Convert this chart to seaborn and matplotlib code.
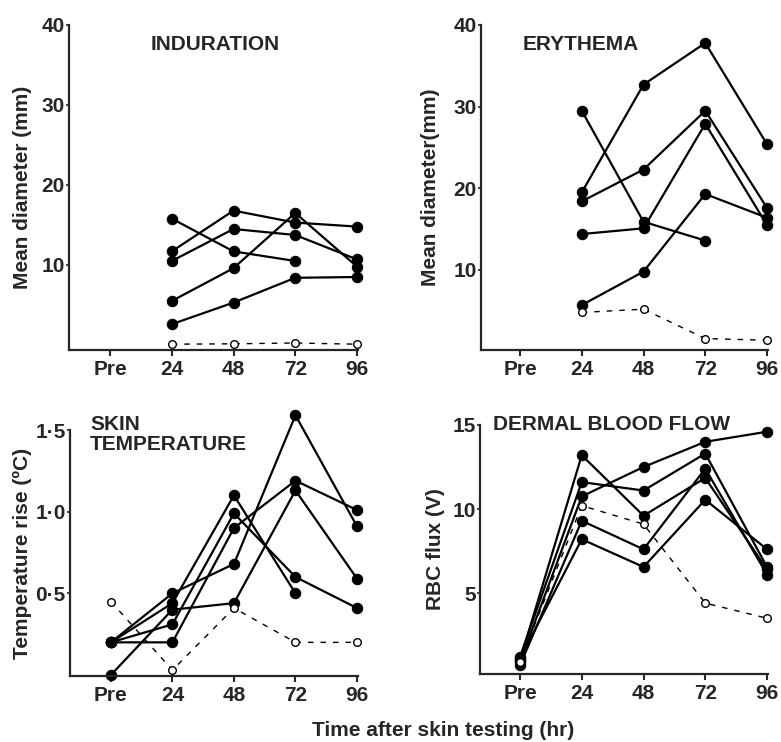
import numpy as np
import pandas as pd
import matplotlib
matplotlib.use("Agg")
import matplotlib.pyplot as plt
import seaborn as sns

# -----------------------------------
# Data
# -----------------------------------

time_labels = ["Pre", "24", "48", "72", "96"]

nan = np.nan

induration = [
    [nan, 15.8, 11.7, 10.5, nan],
    [nan, 11.7, 16.8, 15.3, 14.8],
    [nan, 10.5, 14.5, 13.75, 10.7],
    [nan, 5.5, 9.6, 16.5, 9.8],
    [nan, 2.6, 5.3, 8.4, 8.5],
]
induration_control = [nan, 0.1, 0.15, 0.25, 0.1]

erythema = [
    [nan, 29.5, 15.9, 13.6, nan],
    [nan, 19.5, 32.7, 37.8, 25.4],
    [nan, 18.4, 22.3, 29.5, 17.6],
    [nan, 14.4, 15.1, 27.9, 15.5],
    [nan, 5.7, 9.8, 19.3, 16.4],
]
erythema_control = [nan, 4.8, 5.2, 1.6, 1.4]

skin_temp = [
    [0.2, 0.50, 0.68, 1.59, 0.91],
    [0.0, 0.40, 0.44, 1.13, 0.59],
    [0.2, 0.44, 1.10, 0.50, nan],
    [0.2, 0.31, 0.99, 0.60, 0.41],
    [0.2, 0.20, 0.90, 1.19, 1.01],
]
skin_temp_control = [0.45, 0.03, 0.41, 0.20, 0.20]

blood_flow = [
    [1.0, 13.2, 9.6, 11.85, 6.4],
    [1.2, 11.6, 11.1, 13.3, 6.55],
    [0.9, 10.75, 12.5, 14.0, 14.6],
    [0.7, 9.3, 7.6, 12.4, 6.1],
    [1.1, 8.2, 6.55, 10.55, 7.6],
]
blood_flow_control = [0.9, 10.2, 9.1, 4.4, 3.5]

# -----------------------------------
# Style
# -----------------------------------

sns.set_style("ticks")
plt.rcParams["font.family"] = ["Liberation Sans", "DejaVu Sans"]
plt.rcParams["font.weight"] = "bold"
plt.rcParams["font.size"] = 15

W, H = 781, 742
fig = plt.figure(figsize=(W / 100, H / 100), dpi=100)


def px_rect(left, right, top, bottom):
    return [left / W, 1 - bottom / H, (right - left) / W, (bottom - top) / H]


def long_form(series):
    rows = []
    for i, vals in enumerate(series):
        for t, v in enumerate(vals):
            rows.append({"t": t, "value": v, "subject": i})
    return pd.DataFrame(rows).dropna()


def draw_panel(ax, series, control, xlim, ylim, yticks, yticklabels, ylabel, label_x):

    sns.lineplot(
        data=long_form(series), x="t", y="value", units="subject",
        estimator=None, color="black", marker="o", markersize=7.5,
        markeredgecolor="black", linewidth=1.6, legend=False, ax=ax
    )

    ctrl = pd.DataFrame({"t": range(len(control)), "value": control}).dropna()
    sns.lineplot(
        data=ctrl, x="t", y="value", color="black", marker="o",
        markersize=5.5, markerfacecolor="white", markeredgecolor="black",
        markeredgewidth=1.0, linewidth=1.0, linestyle=(0, (4, 5)),
        legend=False, ax=ax
    )

    for line in ax.lines:
        line.set_clip_on(False)

    ax.set_xlim(*xlim)
    ax.set_ylim(*ylim)
    ax.set_xticks(range(len(time_labels)))
    ax.set_xticklabels(time_labels)
    ax.set_yticks(yticks)
    ax.set_yticklabels(yticklabels)
    ax.set_xlabel("")
    ax.set_ylabel(ylabel, fontsize=15, fontweight="bold")
    ax.yaxis.set_label_coords(label_x, 0.5)

    sns.despine(ax=ax)
    for side in ["left", "bottom"]:
        ax.spines[side].set_linewidth(1.6)
    ax.tick_params(axis="x", length=4, width=1.5, pad=3, labelsize=15)
    ax.tick_params(axis="y", length=2, width=1.2, pad=1, labelsize=15)
    ax.set_facecolor("white")


# -----------------------------------
# Panels
# -----------------------------------

ax1 = fig.add_axes(px_rect(69, 358, 25, 350))
draw_panel(ax1, induration, induration_control, (-0.664, 4.016), (-0.625, 40),
           [10, 20, 30, 40], ["10", "20", "30", "40"],
           "Mean diameter (mm)", -0.128)

ax2 = fig.add_axes(px_rect(481, 768, 25, 350))
draw_panel(ax2, erythema, erythema_control, (-0.632, 4.016), (0.2, 40),
           [10, 20, 30, 40], ["10", "20", "30", "40"],
           "Mean diameter(mm)", -0.143)

ax3 = fig.add_axes(px_rect(70, 358, 430, 676))
draw_panel(ax3, skin_temp, skin_temp_control, (-0.664, 4.016), (-0.006, 1.5),
           [0.5, 1.0, 1.5], ["0·5", "1·0", "1·5"],
           "Temperature rise (ºC)", -0.132)

ax4 = fig.add_axes(px_rect(480, 768, 425, 674))
draw_panel(ax4, blood_flow, blood_flow_control, (-0.648, 4.016), (0.18, 15),
           [5, 10, 15], ["5", "10", "15"],
           "RBC flux (V)", -0.122)

# -----------------------------------
# Panel titles and common x label
# -----------------------------------

fig.text(215 / W, 1 - 44 / H, "INDURATION", ha="center", va="center",
         fontsize=15, fontweight="bold")
fig.text(581 / W, 1 - 44 / H, "ERYTHEMA", ha="center", va="center",
         fontsize=15, fontweight="bold")
fig.text(90 / W, 1 - 415 / H, "SKIN\nTEMPERATURE", ha="left", va="top",
         fontsize=15, fontweight="bold", linespacing=1.1)
fig.text(493 / W, 1 - 424 / H, "DERMAL BLOOD FLOW", ha="left", va="center",
         fontsize=15, fontweight="bold")

fig.text(443 / W, 1 - 730 / H, "Time after skin testing (hr)", ha="center",
         va="center", fontsize=15, fontweight="bold")

fig.savefig("out.png", dpi=100, facecolor="white")
